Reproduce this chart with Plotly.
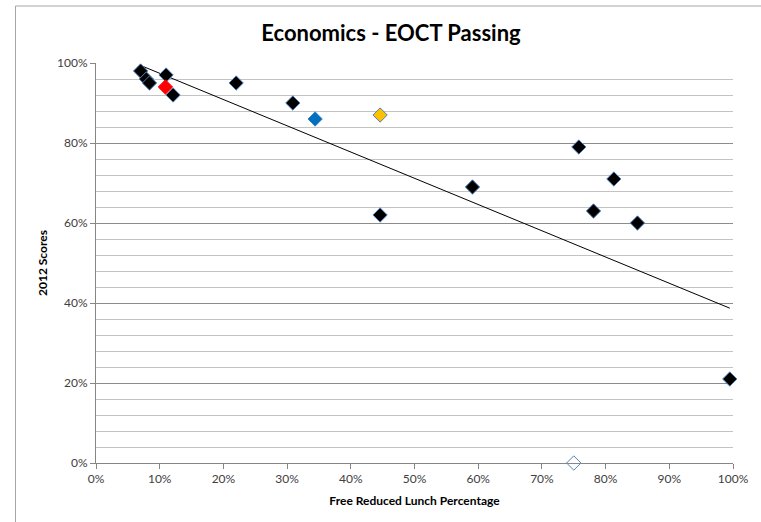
import numpy as np
import plotly.graph_objects as go

# Free/reduced lunch share (x) vs 2012 passing score (y), by school group
black_x = [0.070, 0.079, 0.084, 0.110, 0.121, 0.220, 0.309, 0.446, 0.591, 0.758, 0.813, 0.781, 0.850, 0.995]
black_y = [0.98, 0.96, 0.95, 0.97, 0.92, 0.95, 0.90, 0.62, 0.69, 0.79, 0.71, 0.63, 0.60, 0.21]
red_x = [0.109]
red_y = [0.94]
blue_x = [0.344]
blue_y = [0.86]
yellow_x = [0.446]
yellow_y = [0.87]
open_x = [0.750]
open_y = [0.00]

x_ticks = [0.0, 0.1, 0.2, 0.3, 0.4, 0.5, 0.6, 0.7, 0.8, 0.9, 1.0]
y_ticks = [0.0, 0.2, 0.4, 0.6, 0.8, 1.0]

FONT = "Lato"
W, H = 761, 522
L, R, T, B = 96, 24, 63, 59

fig = go.Figure()

# linear trend across every plotted point
all_x = np.array(black_x + red_x + blue_x + yellow_x + open_x)
all_y = np.array(black_y + red_y + blue_y + yellow_y + open_y)
slope, intercept = np.polyfit(all_x, all_y, 1)
tx = np.array([all_x.min(), all_x.max()])
fig.add_trace(go.Scatter(x=tx, y=slope * tx + intercept, mode="lines",
                         line=dict(color="black", width=1), hoverinfo="skip"))

edge = "#4f81bd"
fig.add_trace(go.Scatter(x=open_x, y=open_y, mode="markers",
                         marker=dict(symbol="diamond-open", size=11, color=edge,
                                     line=dict(color=edge, width=1)),
                         cliponaxis=False))
fig.add_trace(go.Scatter(x=black_x, y=black_y, mode="markers",
                         marker=dict(symbol="diamond", size=11, color="black",
                                     line=dict(color=edge, width=1)),
                         cliponaxis=False))
fig.add_trace(go.Scatter(x=red_x, y=red_y, mode="markers",
                         marker=dict(symbol="diamond", size=11, color="#ff0000",
                                     line=dict(color="#ff0000", width=1))))
fig.add_trace(go.Scatter(x=blue_x, y=blue_y, mode="markers",
                         marker=dict(symbol="diamond", size=11, color="#0070c0",
                                     line=dict(color="#3a7fc4", width=1))))
fig.add_trace(go.Scatter(x=yellow_x, y=yellow_y, mode="markers",
                         marker=dict(symbol="diamond", size=11, color="#ffc000",
                                     line=dict(color=edge, width=1))))

pw = W - L - R
ph = H - T - B
# chart frame (runs past the right and bottom edges of the page)
fig.add_shape(type="rect", xref="paper", yref="paper",
              x0=(15 - L) / pw, x1=(W + 10 - L) / pw,
              y0=-(H + 10 - (T + ph)) / ph, y1=(T + ph - 6) / ph,
              line=dict(color="#a6a6a6", width=1), fillcolor="rgba(0,0,0,0)", layer="below")

fig.update_layout(
    width=W, height=H,
    margin=dict(l=L, r=R, t=T, b=B),
    paper_bgcolor="white", plot_bgcolor="white",
    showlegend=False,
    font=dict(family=FONT, size=12, color="#404040"),
    title=dict(text="<b>Economics - EOCT Passing</b>", x=391 / W, xanchor="center",
               y=1 - 33 / H, yanchor="middle",
               font=dict(family=FONT, size=22, color="black")),
    xaxis=dict(range=[0, 1], tickvals=x_ticks, tickformat=".0%",
               showgrid=False, zeroline=False,
               showline=True, linecolor="#868686", linewidth=1,
               ticks="outside", ticklen=5, tickcolor="#868686",
               title=dict(text="<b>Free Reduced Lunch Percentage</b>", standoff=11,
                          font=dict(family=FONT, size=12, color="black"))),
    yaxis=dict(range=[0, 1], tickvals=y_ticks, tickformat=".0%",
               showgrid=True, gridcolor="#8c8c8c", gridwidth=1, zeroline=False,
               showline=True, linecolor="#868686", linewidth=1,
               ticks="outside", ticklen=5, tickcolor="#868686",
               minor=dict(dtick=0.04, showgrid=True, gridcolor="#c3c3c3", gridwidth=1),
               title=dict(text="<b>2012 Scores</b>", standoff=6,
                          font=dict(family=FONT, size=12, color="black"))),
)

fig.write_html("out.html")
